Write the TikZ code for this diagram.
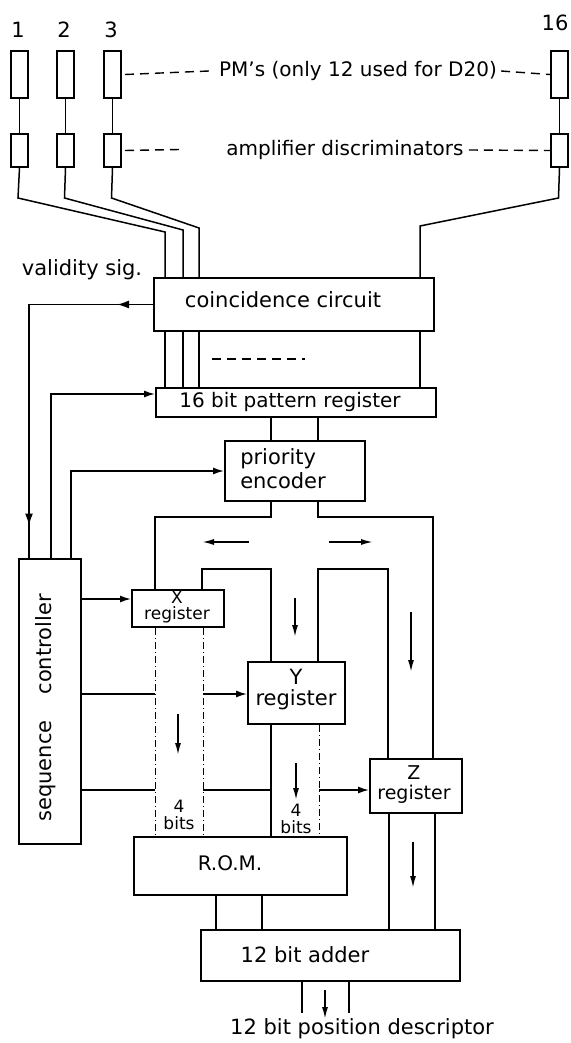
\documentclass[tikz,border=0pt]{standalone}
\usepackage{fontspec}
\setmainfont{DejaVu Sans}
\usetikzlibrary{arrows.meta,decorations.markings}
\begin{document}
\begin{tikzpicture}[x=1pt,y=-1pt,
  box/.style={draw,line width=2pt,inner sep=0pt,anchor=north west},
  wire/.style={line width=1.5pt},
  dashwire/.style={line width=1pt,dash pattern=on 7pt off 3pt on 1pt off 3pt},
  dashes/.style={line width=1.4pt,dash pattern=on 9pt off 6pt},
  lbl/.style={inner sep=0pt,font=\fontsize{21}{21}\selectfont},
  slbl/.style={inner sep=0pt,align=center},
  arr/.style={-{Latex[length=11pt,width=7pt]}},
  flow/.style={line width=1.6pt,-{Latex[length=12pt,width=6pt]}},
  valpath/.style={postaction={decorate},decoration={markings,
     mark=at position 36pt with {\arrow{Latex[length=12pt,width=8pt]}},
     mark=at position 345pt with {\arrow{Latex[length=12pt,width=8pt]}}}}
]
\useasboundingbox (0,0) rectangle (570,1043);

% photomultipliers and amplifier discriminators
\foreach \n/\x in {1/10,2/56,3/103,16/550} {
  \node[box,minimum width=17pt,minimum height=47pt] (pm\n) at (\x,50) {};
  \node[box,minimum width=17pt,minimum height=33pt] (amp\n) at (\x,133) {};
  \draw[wire] (pm\n.south) -- (amp\n.north);
}
\node[lbl] (n1) at (18,30) {1};
\node[lbl] (n2) at (64,30) {2};
\node[lbl] (n3) at (111,30) {3};
\node[lbl] (n16) at (555,23) {16};

\node[lbl,font=\fontsize{20}{20}\selectfont] (pmtxt) at (358,71) {PM's (only 12 used for D20)};
\draw[dashes] ([xshift=3pt]pm3.east) -- ([xshift=-10pt]pmtxt.west);
\draw[dashes] ([xshift=4pt]pmtxt.east) -- (pm16.west);
\node[lbl,font=\fontsize{20}{20}\selectfont] (amptxt) at (345,150) {amplifier discriminators};
\draw[dashes] ([xshift=3pt]amp3.east) -- (180,149.5);
\draw[dashes] ([xshift=5pt]amptxt.east) -- (amp16.west);

% coincidence circuit
\node[box,minimum width=280pt,minimum height=53pt] (cc) at (153,277) {};
\node[lbl] (cctxt) at (283,300) {coincidence circuit};

\draw[wire] (amp1.south) -- (18,198) -- (165,232) -- (cc.north -| 165,0);
\draw[wire] (amp2.south) -- (64.5,198) -- (183,230) -- (cc.north -| 183,0);
\draw[wire] (amp3.south) -- (111.5,198) -- (199,228) -- (cc.north -| 199,0);
\draw[wire] (amp16.south) -- (558.5,198) -- (420,226) -- (cc.north -| 420,0);

% pattern register
\node[box,minimum width=280pt,minimum height=29pt] (pr) at (155,387) {};
\node[lbl,font=\fontsize{20}{20}\selectfont] (prtxt) at (290,402) {16 bit pattern register};
\foreach \x in {165,183,199,420}
  \draw[wire] (cc.south -| \x,0) -- (pr.north -| \x,0);
\draw[dashes] (212,359) -- (305,359);

% validity signal and sequence controller
\node[lbl] (valtxt) at (82,270) {validity sig.};
\node[box,minimum width=62pt,minimum height=285pt] (sc) at (18,558) {};
\node[lbl,rotate=90] (sctxt) at (46,708) {sequence\hspace{26pt}controller};
\draw[wire,valpath] (cc.west) -| (sc.north -| 29,0);
\draw[wire,arr] (sc.north -| 51,0) |- (pr.west |- 0,394);

% priority encoder
\node[box,minimum width=140pt,minimum height=60pt] (pe) at (224,440) {};
\node[lbl,align=left,font=\fontsize{21}{24}\selectfont] (petxt) at (283,469) {priority\\encoder};
\draw[wire] (pr.south -| 271,0) -- (pe.north -| 271,0);
\draw[wire] (pr.south -| 318,0) -- (pe.north -| 318,0);
\draw[wire,arr] (sc.north -| 71,0) |- (pe.west);

% registers
\node[box,minimum width=92pt,minimum height=37pt] (xr) at (131,589) {};
\node[slbl,font=\fontsize{17}{16}\selectfont] (xtxt) at (177,607) {X\\register};
\node[box,minimum width=97pt,minimum height=62pt] (yr) at (247,661) {};
\node[slbl,font=\fontsize{21}{21}\selectfont] (ytxt) at (296,690) {Y\\register};
\node[box,minimum width=92pt,minimum height=54pt] (zr) at (369,758) {};
\node[slbl,font=\fontsize{19}{20}\selectfont] (ztxt) at (414,785) {Z\\register};

% buses from priority encoder
\draw[wire] (pe.south -| 271,0) -- (271,517) -- (155,517) -- (xr.north -| 155,0);
\draw[wire] (pe.south -| 318,0) -- (318,517) -- (433,517) -- (zr.north -| 433,0);
\draw[wire] (xr.north -| 202,0) -- (202,569) -- (271,569) -- (yr.north -| 271,0);
\draw[wire] (yr.north -| 318,0) -- (318,569) -- (388,569) -- (zr.north -| 388,0);
\draw[flow] (249,542) -- (202,542);
\draw[flow] (329,542) -- (373,542);
\draw[flow] (295,598) -- (295,637);
\draw[flow] (411,612) -- (411,672);

% controller outputs
\draw[wire,arr] (sc.east |- 0,599) -- (xr.west |- 0,599);
\draw[wire] (sc.east |- 0,694) -- (155,694);
\draw[wire,arr] (203,694) -- (yr.west |- 0,694);
\draw[wire] (sc.east |- 0,790) -- (155,790);
\draw[wire] (203,790) -- (271,790);
\draw[wire,arr] (319,790) -- (zr.west |- 0,790);

% ROM and adder
\node[box,minimum width=213pt,minimum height=58pt] (rom) at (133,836) {};
\node[lbl,font=\fontsize{20}{20}\selectfont] (romtxt) at (230,863) {R.O.M.};
\node[box,minimum width=259pt,minimum height=51pt] (ad) at (200,929) {};
\node[lbl] (adtxt) at (305,955) {12 bit adder};

\draw[dashwire] (xr.south -| 155,0) -- (rom.north -| 155,0);
\draw[dashwire] (xr.south -| 203,0) -- (rom.north -| 203,0);
\draw[wire] (yr.south -| 271,0) -- (rom.north -| 271,0);
\draw[dashwire] (yr.south -| 319,0) -- (rom.north -| 319,0);
\draw[flow] (178,714) -- (178,755);
\draw[flow] (296,763) -- (296,800);
\node[slbl,font=\fontsize{17}{17}\selectfont] (b1) at (179,815) {4\\bits};
\node[slbl,font=\fontsize{17}{17}\selectfont] (b2) at (296,819) {4\\bits};

\draw[wire] (zr.south -| 389,0) -- (ad.north -| 389,0);
\draw[wire] (zr.south -| 435,0) -- (ad.north -| 435,0);
\draw[flow] (413,842) -- (413,888);
\draw[wire] (rom.south -| 216,0) -- (ad.north -| 216,0);
\draw[wire] (rom.south -| 262,0) -- (ad.north -| 262,0);

% output
\coordinate (o1) at (302,1013);
\coordinate (o2) at (349,1013);
\draw[wire] (ad.south -| o1) -- (o1);
\draw[wire] (ad.south -| o2) -- (o2);
\draw[flow] (325,990) -- (325,1019);
\node[lbl] (outtxt) at (362,1029) {12 bit position descriptor};
\end{tikzpicture}
\end{document}
